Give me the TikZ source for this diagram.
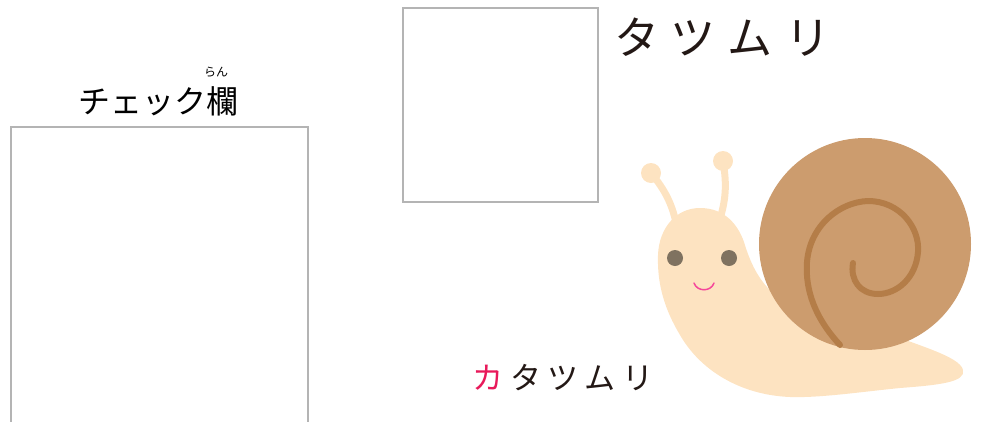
\documentclass[tikz,border=0pt]{standalone}
\usepackage{fontspec}
\newfontfamily\jp{Noto Sans CJK JP}
\definecolor{boxgray}{HTML}{B4B4B4}
\definecolor{shell}{HTML}{CC9C6E}
\definecolor{spiral}{HTML}{B47D48}
\definecolor{body}{HTML}{FDE3C1}
\definecolor{eye}{HTML}{7F7260}
\definecolor{mouth}{HTML}{F5489A}
\definecolor{ink}{HTML}{231815}
\definecolor{kared}{HTML}{E8195A}
\tikzset{
  frame/.style={draw=boxgray, line width=1.3pt},
  label/.style={inner sep=0pt, text=ink, font=\jp},
}
\begin{document}
\begin{tikzpicture}[x=1pt,y=-1pt]
\useasboundingbox (0,0) rectangle (997,421);
\begin{scope}
\clip (0,0) rectangle (997,421);
\draw[frame] (11,127) rectangle (308,430);
\end{scope}
\draw[frame] (403,8) rectangle (598,202);
\node[label, text=black, font=\jp\fontsize{32}{32}\selectfont] (title) at (158,101) {チェック欄};
\node[label, text=black, font=\jp\fontsize{12}{12}\selectfont] (ruby) at (216,72) {らん};
\node[label, font=\jp\fontsize{45}{45}\selectfont] (big) at (722,37) {タ\kern12ptツ\kern12ptム\kern12ptリ};
\node[label, font=\jp\fontsize{31}{31}\selectfont] (small) at (563,378) {\textcolor{kared}{カ}\kern6.5ptタ\kern6.5ptツ\kern6.5ptム\kern6.5ptリ};
% antennae
\draw[body, line width=7pt, line cap=round] (651,173) .. controls (665,190) and (673,205) .. (677,228);
\draw[body, line width=7pt, line cap=round] (723,161) .. controls (727,185) and (726,200) .. (719,222);
\fill[body] (651,173) circle (10);
\fill[body] (723,161) circle (10);
% body
\fill[body] (700,208) .. controls (725,208) and (738,225) .. (744,242)
  .. controls (750,262) and (758,280) .. (775,295)
  -- (880,330)
  .. controls (915,345) and (960,356) .. (963,370)
  .. controls (966,382) and (940,385) .. (900,388)
  .. controls (860,392) and (820,398) .. (790,397)
  .. controls (740,395) and (700,370) .. (680,335)
  .. controls (665,310) and (657,285) .. (658,255)
  .. controls (659,228) and (676,208) .. (700,208) -- cycle;
% shell
\fill[shell] (865,244) circle (106);
\draw[spiral, line width=6pt, line cap=round] (840,345)
  .. controls (815,318) and (805,290) .. (807,262)
  .. controls (810,225) and (840,202) .. (868,201)
  .. controls (900,201) and (920,228) .. (918,252)
  .. controls (916,278) and (897,294) .. (878,294)
  .. controls (860,294) and (850,280) .. (853,263);
% face
\fill[eye] (675,258) circle (8);
\fill[eye] (729,258) circle (8);
\draw[mouth, line width=1.5pt, line cap=round] (694,283) .. controls (697,292) and (711,292) .. (714,283);
\end{tikzpicture}
\end{document}
